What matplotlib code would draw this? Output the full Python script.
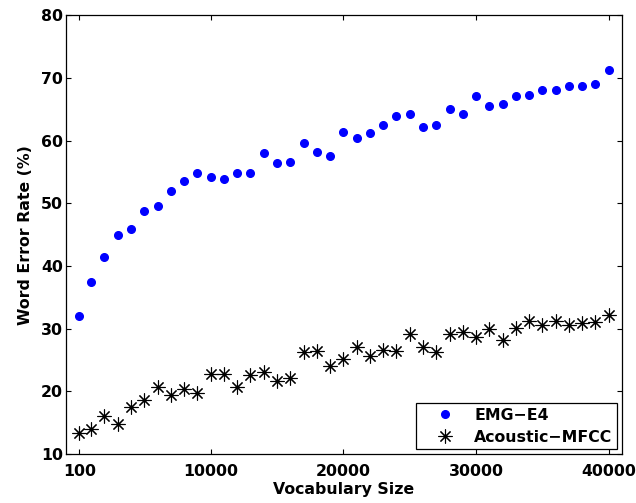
import matplotlib
matplotlib.use('Agg')
import matplotlib.pyplot as plt

# vocabulary sizes
vocab = [100] + list(range(1000, 40001, 1000))

# word error rates (%)
emg_e4 = [32.0, 37.5, 41.5, 45.0, 45.9, 48.7, 49.5, 52.0, 53.6, 54.8,
          54.2, 53.8, 54.8, 54.8, 58.1, 56.4, 56.6, 59.7, 58.2, 57.5,
          61.3, 60.5, 61.2, 62.5, 64.0, 64.2, 62.2, 62.5, 65.0, 64.2,
          67.1, 65.6, 65.8, 67.1, 67.3, 68.1, 68.1, 68.7, 68.7, 69.1, 71.2]
acoustic_mfcc = [13.3, 14.0, 16.1, 14.8, 17.5, 18.6, 20.7, 19.4, 20.3, 19.8,
                 22.8, 22.8, 20.7, 22.6, 23.1, 21.7, 22.2, 26.2, 26.5, 24.1,
                 25.2, 27.0, 25.6, 26.6, 26.5, 29.1, 27.0, 26.3, 29.1, 29.4,
                 28.6, 29.9, 28.2, 30.1, 31.3, 30.6, 31.2, 30.6, 30.9, 31.1, 32.1]

xticks = [100, 10000, 20000, 30000, 40000]
yticks = [10, 20, 30, 40, 50, 60, 70, 80]

plt.rcParams['font.family'] = ['DejaVu Sans']
plt.rcParams['font.weight'] = 'bold'
plt.rcParams['font.size'] = 11.3

fig = plt.figure(figsize=(6.36, 5.03), dpi=100)
ax = fig.add_axes([0.1038, 0.0974, 0.8742, 0.8722])

ax.plot(vocab, emg_e4, linestyle='none', marker='o', color='#0000ff',
        markersize=5.5, label='EMG\u2212E4')
ax.plot(vocab, acoustic_mfcc, linestyle='none', marker=(8, 2, 0), color='black',
        markersize=10, markeredgewidth=0.8, label='Acoustic\u2212MFCC')

ax.set_xlim(-900, 41000)
ax.set_ylim(10, 80)
ax.set_xticks(xticks)
ax.set_xticklabels([str(v) for v in xticks])
ax.set_yticks(yticks)
ax.tick_params(direction='in', top=True, right=True, length=3.7, width=0.8)
ax.tick_params(axis='x', pad=7)
ax.tick_params(axis='y', pad=2)
for s in ax.spines.values():
    s.set_linewidth(0.9)

ax.set_xlabel('Vocabulary Size', fontweight='bold', labelpad=2)
ax.set_ylabel('Word Error Rate (%)', fontweight='bold', labelpad=6)

leg = ax.legend(loc='lower right', fancybox=False, edgecolor='black',
                framealpha=1, borderaxespad=0.3, handlelength=3.0,
                handletextpad=0.4, borderpad=0.3, labelspacing=0.45)
leg.get_frame().set_linewidth(0.9)

fig.savefig('out.png', dpi=100)
